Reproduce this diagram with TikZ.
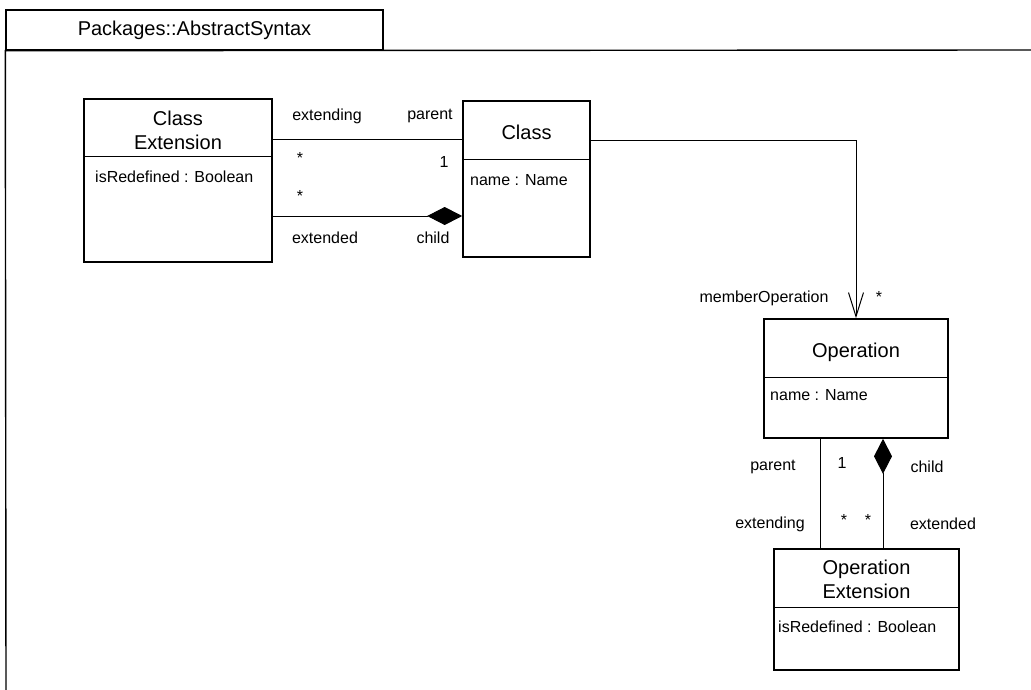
\documentclass[tikz,border=0pt]{standalone}
\usepackage{fontspec}
\setmainfont{Liberation Sans}
\usetikzlibrary{arrows.meta}
\begin{document}
\begin{tikzpicture}[x=1pt,y=-1pt,
  classbox/.style={draw, line width=1.6pt, inner sep=0pt},
  divider/.style={line width=1pt},
  conn/.style={line width=1pt},
  ttl/.style={font=\fontsize{20}{24}\selectfont, inner sep=0pt, align=center},
  lbl/.style={font=\fontsize{16}{19}\selectfont, inner sep=0pt},
  attr/.style={font=\fontsize{16}{19}\selectfont, inner sep=0pt, anchor=west},
  compo/.style={-{Diamond[length=35pt,width=18pt]}},
  navig/.style={-{Straight Barb[length=24pt,width=15pt,line width=1pt]}}
]
\useasboundingbox (0,0) rectangle (1031,690);

% package frame
\node[draw, line width=1.4pt, minimum width=377pt, minimum height=40pt, inner sep=0pt,
      font=\fontsize{20}{24}\selectfont] (pkg) at (194.5,30) {Packages::AbstractSyntax};
\coordinate (pr) at (1033,50);
\coordinate (pb) at (6,692);
\draw[line width=1.4pt] (pr) -- (pkg.south west) -- (pb);

% class boxes
\node[classbox, minimum width=188pt, minimum height=163pt] (CE) at (178,180.5) {};
\node[classbox, minimum width=127pt, minimum height=156pt] (CL) at (526.5,179) {};
\node[classbox, minimum width=184pt, minimum height=119pt] (OP) at (856,378.5) {};
\node[classbox, minimum width=185pt, minimum height=121pt] (OE) at (866.5,609.5) {};

% dividers
\draw[divider] (CE.west |- 0,157) -- (CE.east |- 0,157);
\draw[divider] (CL.west |- 0,160) -- (CL.east |- 0,160);
\draw[divider] (OP.west |- 0,377) -- (OP.east |- 0,377);
\draw[divider] (OE.west |- 0,607) -- (OE.east |- 0,607);

% titles
\node[ttl] (CEt) at (178,130) {Class\\Extension};
\node[ttl] (CLt) at (526.5,132) {Class};
\node[ttl] (OPt) at (856,352) {Operation};
\node[ttl] (OEt) at (866.5,579.5) {Operation\\Extension};

% attributes
\node[attr] (CEa) at (95,177) {isRedefined : Boolean};
\node[attr] (CLa) at (470,180) {name : Name};
\node[attr] (OPa) at (770,395) {name : Name};
\node[attr] (OEa) at (778,627) {isRedefined : Boolean};

% connectors
\draw[conn] (CE.east |- 0,140) -- (CL.west |- 0,140);
\draw[conn, compo] (CE.east |- 0,216) -- (CL.west |- 0,216);
\draw[conn, navig] (CL.east |- 0,141) -| (OP.north);
\draw[conn] (OP.south -| 820,0) -- (OE.north -| 820,0);
\draw[conn, compo] (OE.north -| 883,0) -- (OP.south -| 883,0);

% association labels
\node[lbl] (l1) at (327,116) {extending};
\node[lbl] (l2) at (430,116) {parent};
\node[lbl] (l3) at (300,158) {*};
\node[lbl] (l4) at (444,162) {1};
\node[lbl] (l5) at (300,196) {*};
\node[lbl] (l6) at (325,238) {extended};
\node[lbl] (l7) at (433,238) {child};
\node[lbl] (l8) at (764,298) {memberOperation};
\node[lbl] (l9) at (879,297) {*};
\node[lbl] (l10) at (773,467) {parent};
\node[lbl] (l11) at (842,463) {1};
\node[lbl] (l12) at (927,467) {child};
\node[lbl] (l13) at (770,524) {extending};
\node[lbl] (l14) at (844,520) {*};
\node[lbl] (l15) at (868,520) {*};
\node[lbl] (l16) at (943,524) {extended};
\end{tikzpicture}
\end{document}
